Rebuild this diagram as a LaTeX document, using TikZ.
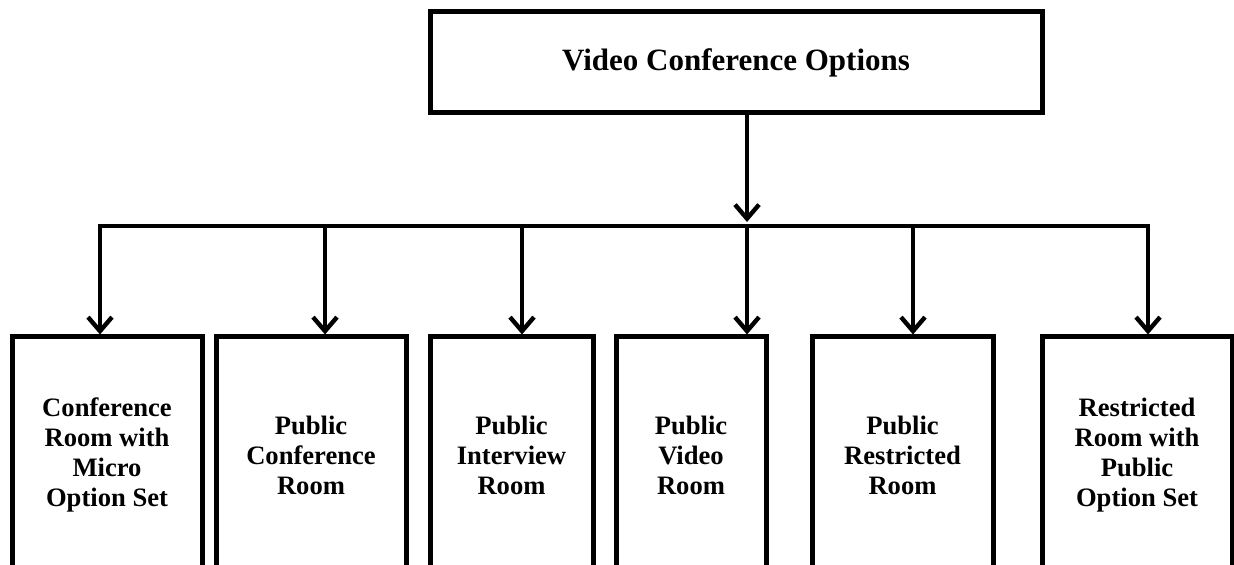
\documentclass[tikz,border=0pt]{standalone}
\usepackage{fontspec}
\setmainfont{Liberation Serif}
\usetikzlibrary{arrows.meta}
\tikzset{
  line/.style={line width=2.2pt, black},
  arr/.style={line/.try, line width=2.2pt, -{Straight Barb[length=7pt,width=12pt,line width=2.2pt]}},
  box/.style={draw, line width=2.5pt, minimum height=118pt, inner sep=2pt, align=center,
              font=\fontsize{13.3pt}{15pt}\selectfont\bfseries},
  topbox/.style={draw, line width=2.5pt, minimum width=306pt, minimum height=50.5pt,
              font=\fontsize{15.5pt}{18pt}\selectfont\bfseries}
}
\begin{document}
\begin{tikzpicture}[x=0.5pt,y=-0.5pt]
\useasboundingbox (0,0) rectangle (1234,565);
\clip (0,0) rectangle (1234,565);
\fill[white] (0,0) rectangle (1234,565);

\node[topbox] (top) at (736,62.5) {Video Conference Options};

\node[box, minimum width=95pt]   (b1) at (107,455)  {Conference\\Room with\\Micro\\Option Set};
\node[box, minimum width=95pt]   (b2) at (311,455)  {Public\\Conference\\Room};
\node[box, minimum width=81.5pt] (b3) at (511.5,455) {Public\\Interview\\Room};
\node[box, minimum width=75pt]   (b4) at (691,455)  {Public\\Video\\Room};
\node[box, minimum width=90.5pt] (b5) at (902.5,455) {Public\\Restricted\\Room};
\node[box, minimum width=95pt]   (b6) at (1137,455) {Restricted\\Room with\\Public\\Option Set};

\coordinate (d1) at (100,226);
\coordinate (d2) at (325,226);
\coordinate (d3) at (522,226);
\coordinate (d4) at (747,226);
\coordinate (d5) at (913,226);
\coordinate (d6) at (1148,226);
\coordinate (m) at (747,222);

\draw[line, line cap=rect] (d1) -- (d6);
\draw[arr] (top.south -| m) -- (m);
\draw[arr] (d1) -- (d1 |- b1.north);
\draw[arr] (d2) -- (d2 |- b2.north);
\draw[arr] (d3) -- (d3 |- b3.north);
\draw[arr] (d4) -- (d4 |- b4.north);
\draw[arr] (d5) -- (d5 |- b5.north);
\draw[arr] (d6) -- (d6 |- b6.north);
\end{tikzpicture}
\end{document}
